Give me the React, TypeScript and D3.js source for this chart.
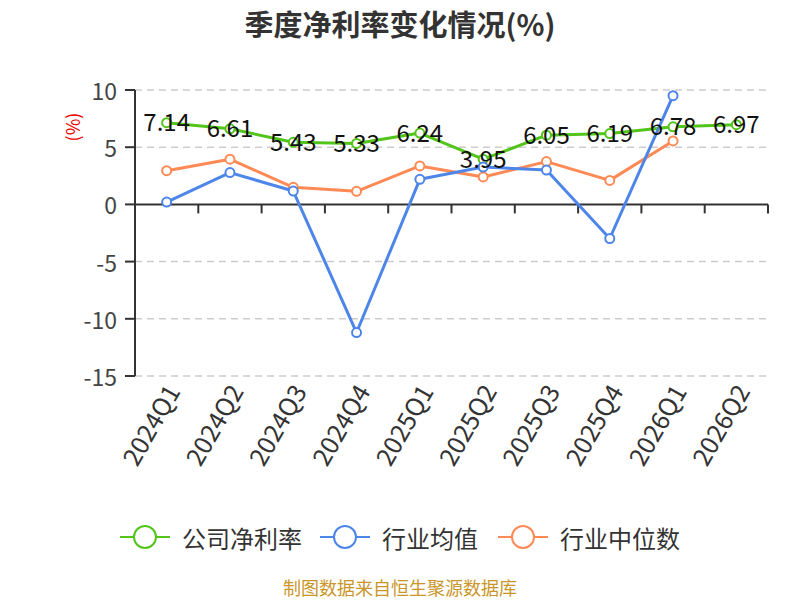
import * as d3 from 'd3';

const QUARTERS = ['2024Q1', '2024Q2', '2024Q3', '2024Q4', '2025Q1', '2025Q2', '2025Q3', '2025Q4', '2026Q1', '2026Q2'];
const COMPANY = [7.14, 6.61, 5.43, 5.33, 6.24, 3.95, 6.05, 6.19, 6.78, 6.97];
const INDUSTRY_AVG: (number | null)[] = [0.2, 2.78, 1.17, -11.2, 2.19, 3.27, 3.0, -2.98, 9.5, null];
const INDUSTRY_MEDIAN: (number | null)[] = [2.95, 3.95, 1.49, 1.14, 3.36, 2.4, 3.74, 2.1, 5.55, null];
const Y_TICKS = [10, 5, 0, -5, -10, -15];
const LEGEND_NAMES = ['公司净利率', '行业均值', '行业中位数'];

const COLORS = {
  company: '#52c41a',
  avg: '#4d86e8',
  median: '#ff8a55',
  axis: '#333',
  grid: '#cccccc',
  text: '#333',
  footer: '#c9962a',
};

const FONT = '"Noto Sans CJK SC", "Noto Sans", sans-serif';

const WIDTH = 800;
const HEIGHT = 600;
const LEFT = 135;
const RIGHT = 768;

export default function App() {
  const x = d3.scaleBand<string>().domain(QUARTERS).range([LEFT, RIGHT]).padding(0);
  const y = d3.scaleLinear().domain([-15, 10]).range([376, 90]);
  const cx = (q: string) => (x(q) ?? 0) + x.bandwidth() / 2;

  const line = d3
    .line<[string, number | null]>()
    .defined((d) => d[1] !== null)
    .x((d) => cx(d[0]))
    .y((d) => y(d[1] as number));

  const series = [
    { name: LEGEND_NAMES[0], values: COMPANY as (number | null)[], color: COLORS.company },
    { name: LEGEND_NAMES[1], values: INDUSTRY_AVG, color: COLORS.avg },
    { name: LEGEND_NAMES[2], values: INDUSTRY_MEDIAN, color: COLORS.median },
  ];

  // company first, then median, avg on top
  const drawOrder = [series[0], series[2], series[1]];

  const boundaries = d3.range(QUARTERS.length + 1).map((i) => LEFT + i * x.step());

  const legendStarts = [120, 320, 498];

  return (
    <svg width={WIDTH} height={HEIGHT} style={{ position: 'absolute', left: 0, top: 0, background: '#fff' }} fontFamily={FONT}>
      <text x={400} y={23} textAnchor="middle" dominantBaseline="central" fontSize={29} fontWeight={700} fill={COLORS.text}>
        季度净利率变化情况(%)
      </text>

      <text transform="translate(72,127) rotate(-90)" textAnchor="middle" dominantBaseline="central" fontSize={18} fill="#e00">
        (%)
      </text>

      {/* grid */}
      {Y_TICKS.filter((t) => t !== 0).map((t) => (
        <line key={t} x1={LEFT} x2={RIGHT} y1={y(t)} y2={y(t)} stroke={COLORS.grid} strokeWidth={1.5} strokeDasharray="7,5" />
      ))}

      {/* y axis */}
      <line x1={LEFT} x2={LEFT} y1={y(10)} y2={y(-15)} stroke={COLORS.axis} strokeWidth={2} />
      {Y_TICKS.map((t) => (
        <g key={t}>
          <line x1={LEFT - 10} x2={LEFT} y1={y(t)} y2={y(t)} stroke={COLORS.axis} strokeWidth={2} />
          <text x={117} y={y(t)} textAnchor="end" dominantBaseline="central" fontSize={23} fill="#444">
            {t}
          </text>
        </g>
      ))}

      {/* x axis at zero */}
      <line x1={LEFT} x2={RIGHT} y1={y(0)} y2={y(0)} stroke={COLORS.axis} strokeWidth={2} />
      {boundaries.map((bx, i) => (
        <line key={i} x1={bx} x2={bx} y1={y(0)} y2={y(0) + 9} stroke={COLORS.axis} strokeWidth={2} />
      ))}
      {QUARTERS.map((q) => (
        <text
          key={q}
          transform={`translate(${cx(q) + 5},${386}) rotate(-60)`}
          textAnchor="end"
          dominantBaseline="central"
          fontSize={25}
          fill={COLORS.text}
        >
          {q}
        </text>
      ))}

      {/* lines */}
      {drawOrder.map((s) => {
        const pts = QUARTERS.map((q, i) => [q, s.values[i]] as [string, number | null]);
        return (
          <g key={s.name}>
            <path d={line(pts) ?? ''} fill="none" stroke={s.color} strokeWidth={3} strokeLinejoin="round" />
            {pts
              .filter((p) => p[1] !== null)
              .map((p) => (
                <circle key={p[0]} cx={cx(p[0])} cy={y(p[1] as number)} r={4.5} fill="#fff" stroke={s.color} strokeWidth={2} />
              ))}
          </g>
        );
      })}

      {/* company labels */}
      {QUARTERS.map((q, i) => (
        <text key={q} x={cx(q)} y={y(COMPANY[i]) - 2} textAnchor="middle" dominantBaseline="central" fontSize={24} fill="#111">
          {COMPANY[i].toFixed(2)}
        </text>
      ))}

      {/* legend */}
      {series.map((s, i) => {
        const lx = legendStarts[i];
        return (
          <g key={s.name}>
            <line x1={lx} x2={lx + 50} y1={537} y2={537} stroke={s.color} strokeWidth={2} />
            <circle cx={lx + 25} cy={537} r={11} fill="#fff" stroke={s.color} strokeWidth={2} />
            <text x={lx + 62} y={537} dominantBaseline="central" fontSize={24} fill={COLORS.text}>
              {s.name}
            </text>
          </g>
        );
      })}

      <text x={400} y={587} textAnchor="middle" dominantBaseline="central" fontSize={18} fill={COLORS.footer}>
        制图数据来自恒生聚源数据库
      </text>
    </svg>
  );
}
